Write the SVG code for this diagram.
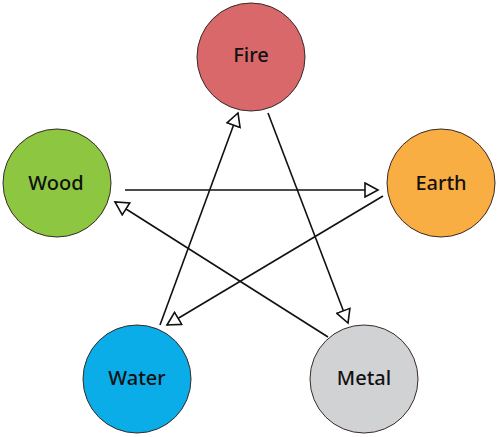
<svg xmlns="http://www.w3.org/2000/svg" width="500" height="437" viewBox="0 0 500 437">
<style>
.node circle{stroke:#3a2a2a;stroke-width:1}
.node text{font-family:"Noto Sans","Open Sans","Liberation Sans",sans-serif;font-size:20px;font-weight:500;fill:#111;text-anchor:middle;dominant-baseline:central}
.edge{stroke:#111;stroke-width:1.6;fill:none;marker-end:url(#arr)}
</style>
<defs>
<marker id="arr" markerUnits="userSpaceOnUse" markerWidth="16" markerHeight="16" viewBox="0 0 16 16" refX="14" refY="8" orient="auto">
<path d="M1,1 L14,8 L1,15 Z" fill="#fff" stroke="#111" stroke-width="1.6"/>
</marker>
</defs>
<rect width="500" height="437" fill="#fff"/>
<g id="connectors">
<line class="edge" x1="160" y1="325" x2="238" y2="113"/>
<line class="edge" x1="268" y1="113" x2="348" y2="323"/>
<line class="edge" x1="328" y1="337" x2="115" y2="202"/>
<line class="edge" x1="125" y1="190" x2="378" y2="190"/>
<line class="edge" x1="383" y1="196" x2="167" y2="325"/>
</g>
<g id="fire" class="node"><circle cx="251" cy="57" r="54" fill="#D9686B"/><text x="251" y="54">Fire</text></g>
<g id="wood" class="node"><circle cx="57" cy="183" r="54" fill="#8DC641"/><text x="56" y="182">Wood</text></g>
<g id="earth" class="node"><circle cx="441" cy="183" r="54" fill="#F9AE43"/><text x="441" y="182">Earth</text></g>
<g id="water" class="node"><circle cx="137" cy="379" r="54" fill="#0AADE8"/><text x="137" y="377">Water</text></g>
<g id="metal" class="node"><circle cx="364" cy="379" r="54" fill="#D1D2D4"/><text x="364" y="377">Metal</text></g>
</svg>
